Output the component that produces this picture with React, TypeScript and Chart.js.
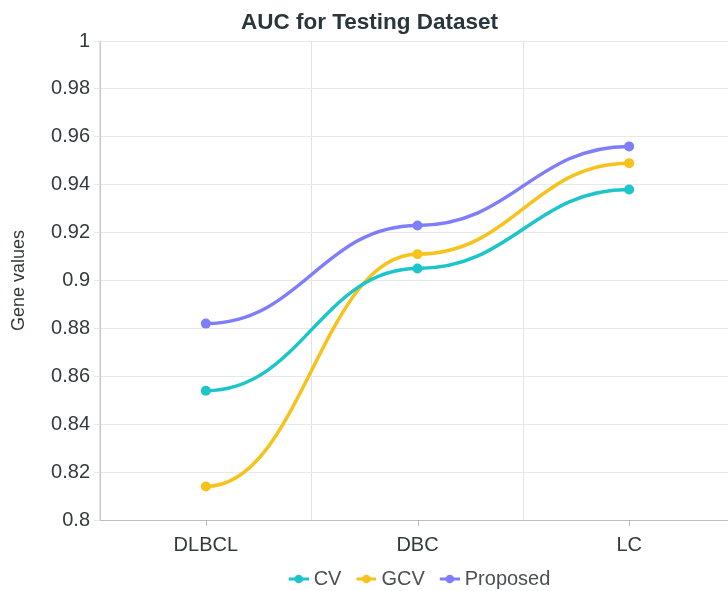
import React, { useEffect, useRef } from "react";
import { Chart, registerables } from "chart.js";

Chart.register(...registerables);

const categories = ["DLBCL", "DBC", "LC"];
const cvValues = [0.854, 0.905, 0.938];
const gcvValues = [0.814, 0.911, 0.949];
const proposedValues = [0.882, 0.923, 0.956];
const seriesNames = ["CV", "GCV", "Proposed"];
const seriesColors = ["#1cc5c9", "#f6c21c", "#7e7dfb"];

const FONT = '"Liberation Sans", Arial, Helvetica, sans-serif';

// legend marker: a short line with a dot, placed in the right part of the image
function makeMarker(color: string): HTMLCanvasElement {
  const c = document.createElement("canvas");
  c.width = 29;
  c.height = 10;
  const ctx = c.getContext("2d")!;
  ctx.strokeStyle = color;
  ctx.lineWidth = 3;
  ctx.beginPath();
  ctx.moveTo(9, 5);
  ctx.lineTo(29, 5);
  ctx.stroke();
  ctx.fillStyle = color;
  ctx.beginPath();
  ctx.arc(19, 5, 4.3, 0, Math.PI * 2);
  ctx.fill();
  return c;
}

// Apex-like "smooth" curves: horizontal tangents at every data point
const flatSpline = {
  id: "flatSpline",
  beforeDatasetsDraw(chart: any) {
    const t = 0.45;
    chart.data.datasets.forEach((_: any, di: number) => {
      const meta = chart.getDatasetMeta(di);
      const line = meta.dataset;
      if (!line) return;
      line.updateControlPoints(chart.chartArea, "x");
      const pts = meta.data;
      for (let i = 0; i < pts.length; i++) {
        const p = pts[i];
        const prev = pts[i - 1];
        const next = pts[i + 1];
        p.cp1x = prev ? p.x - (p.x - prev.x) * t : p.x;
        p.cp1y = p.y;
        p.cp2x = next ? p.x + (next.x - p.x) * t : p.x;
        p.cp2y = p.y;
      }
      delete line._path;
    });
  },
};

const centerTicks = {
  id: "centerTicks",
  afterDraw(chart: any) {
    const x = chart.scales.x;
    const ctx = chart.ctx;
    ctx.save();
    ctx.strokeStyle = "#b8b8b8";
    ctx.lineWidth = 1;
    for (let i = 0; i < x.ticks.length; i++) {
      const px = Math.round(x.getPixelForTick(i)) + 0.5;
      ctx.beginPath();
      ctx.moveTo(px, x.top);
      ctx.lineTo(px, x.top + 6);
      ctx.stroke();
    }
    ctx.restore();
  },
};

export default function App() {
  const ref = useRef<HTMLCanvasElement | null>(null);

  useEffect(() => {
    if (!ref.current) return;
    const markers = seriesColors.map(makeMarker);
    const values = [cvValues, gcvValues, proposedValues];
    const chart = new Chart(ref.current, {
      type: "line",
      data: {
        labels: categories,
        datasets: seriesNames.map((name, i) => ({
          label: name,
          data: values[i],
          borderColor: seriesColors[i],
          backgroundColor: seriesColors[i],
          borderWidth: 3.5,
          pointRadius: 5,
          pointHoverRadius: 5,
          pointBorderWidth: 0,
          tension: 0.4,
          fill: false,
        })),
      },
      plugins: [flatSpline, centerTicks],
      options: {
        responsive: false,
        animation: false,
        devicePixelRatio: 1,
        layout: { padding: { left: 0, right: 1, top: 0, bottom: 0 } },
        plugins: {
          title: {
            display: true,
            text: "AUC for Testing Dataset",
            color: "#2b363c",
            font: { family: FONT, size: 22.5, weight: "bold" },
            padding: { top: 9, bottom: 5 },
          },
          legend: {
            position: "bottom",
            fullSize: false,
            labels: {
              usePointStyle: true,
              pointStyleWidth: 19,
              boxHeight: 10,
              padding: 11,
              color: "#4a5053",
              font: { family: FONT, size: 20 },
              generateLabels: (ch: any) => {
                const base = (Chart.defaults.plugins.legend.labels as any).generateLabels(ch);
                return base.map((l: any, i: number) => ({
                  ...l,
                  pointStyle: markers[i],
                  lineWidth: 0,
                }));
              },
            },
          },
          tooltip: { enabled: false },
        },
        scales: {
          x: {
            offset: true,
            afterFit: (s: any) => {
              s.height = 38;
            },
            grid: {
              offset: true,
              drawTicks: false,
              color: "#e3e3e3",
            },
            border: { color: "#bdbdbd", width: 1 },
            ticks: {
              padding: 13,
              color: "#333a3d",
              font: { family: FONT, size: 20 },
            },
          },
          y: {
            min: 0.8,
            max: 1,
            afterFit: (s: any) => {
              s.width = 100;
            },
            grid: {
              color: "#e8e8e8",
              tickLength: 6,
              drawTicks: true,
            },
            border: { color: "#c8c8c8", width: 1 },
            ticks: {
              stepSize: 0.02,
              padding: 4,
              color: "#333a3d",
              font: { family: FONT, size: 20 },
              callback: (v: any) => String(parseFloat(Number(v).toFixed(2))),
            },
            title: {
              display: true,
              text: "Gene values",
              color: "#333a3d",
              font: { family: FONT, size: 18 },
              padding: { top: 8, bottom: 10 },
            },
          },
        },
      },
    });
    return () => chart.destroy();
  }, []);

  return (
    <div
      style={{
        position: "fixed",
        left: 0,
        top: 0,
        width: 728,
        height: 591,
        overflow: "hidden",
        background: "#fff",
      }}
    >
      <canvas ref={ref} width={740} height={599} style={{ display: "block", width: 740, height: 599 }} />
    </div>
  );
}
